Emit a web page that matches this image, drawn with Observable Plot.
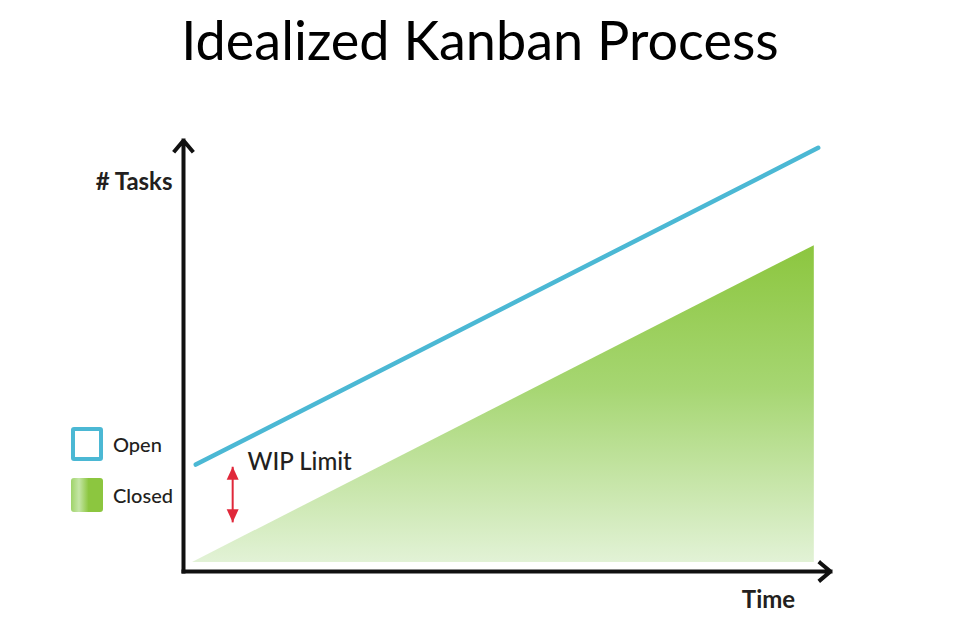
<!DOCTYPE html>
<html>
<head>
<meta charset="utf-8">
<script src="https://cdn.jsdelivr.net/npm/d3@7"></script>
<script src="https://cdn.jsdelivr.net/npm/@observablehq/plot@0.6"></script>
<style>
  html, body { margin: 0; padding: 0; background: #fff; }
  #wrap { position: relative; width: 960px; height: 630px; overflow: hidden; font-family: Lato, "Open Sans", sans-serif; }
  #title { height: 90px; box-sizing: border-box; padding-top: 13px; text-align: center; font-size: 54px; line-height: 54px; color: #000; }
  #legend { position: absolute; left: 71px; top: 427px; color: #231f20; font-size: 20px; }
  .item { position: absolute; left: 0; height: 34px; width: 120px; }
  .sw { position: absolute; left: 0; top: 0; width: 32px; height: 34px; box-sizing: border-box; border-radius: 3px; }
  .lab { position: absolute; left: 42px; top: 0; line-height: 34px; font-weight: 500; }
</style>
</head>
<body>
<div id="wrap">
  <div id="title">Idealized Kanban Process</div>
  <div id="chart"></div>
  <div id="legend"></div>
</div>
<script>
// ---- data ----
const titleText = "Idealized Kanban Process";
const yLabel = "# Tasks";
const xLabel = "Time";
const wipLabel = "WIP Limit";

const openTime = [1.9, 98.1];
const openTasks = [24.8, 98.3];

const closedTime = [1.4, 97.5];
const closedTasks = [2.1, 75.6];
const closedBase = 2.1;

const wipTime = 7.6;
const wipLow = 11.4;
const wipHigh = 24.3;
const wipTextTime = 9.9;
const wipTextTasks = 25.4;

const axisMax = 100;

const legendLabels = ["Open", "Closed"];
const openColor = "#4bb8d4";
const closedTop = "#8cc63f";
const closedBottom = "#e2f2d6";
const wipColor = "#e0283a";
const axisColor = "#111111";
const textColor = "#231f20";

// ---- tables ----
const openData = openTime.map((t, i) => ({t, v: openTasks[i]}));
const closedData = closedTime.map((t, i) => ({t, v: closedTasks[i], b: closedBase}));

const triUp = { draw(ctx) { ctx.moveTo(0, -6.5); ctx.lineTo(6, 6.5); ctx.lineTo(-6, 6.5); ctx.closePath(); } };
const triDown = { draw(ctx) { ctx.moveTo(0, 6.5); ctx.lineTo(6, -6.5); ctx.lineTo(-6, -6.5); ctx.closePath(); } };

const plot = Plot.plot({
  width: 960,
  height: 540,
  marginLeft: 183,
  marginRight: 130,
  marginTop: 50,
  marginBottom: 59,
  x: { domain: [0, axisMax], axis: null },
  y: { domain: [0, axisMax], axis: null },
  style: { fontFamily: "Lato, 'Open Sans', sans-serif", background: "white" },
  marks: [
    Plot.areaY(closedData, { x: "t", y1: "b", y2: "v", fill: "url(#closedGrad)" }),
    Plot.line(openData, { x: "t", y: "v", stroke: openColor, strokeWidth: 4.5, strokeLinecap: "round" }),
    // axes as arrows
    Plot.arrow([{x1: 0, y1: 0, x2: 0, y2: axisMax}], {
      x1: "x1", y1: "y1", x2: "x2", y2: "y2", stroke: axisColor, strokeWidth: 4,
      headLength: 5, headAngle: 80, strokeLinecap: "square", strokeLinejoin: "miter"
    }),
    Plot.arrow([{x1: 0, y1: 0, x2: axisMax, y2: 0}], {
      x1: "x1", y1: "y1", x2: "x2", y2: "y2", stroke: axisColor, strokeWidth: 4,
      headLength: 5, headAngle: 80, strokeLinecap: "square", strokeLinejoin: "miter"
    }),
    // WIP limit double arrow
    Plot.link([{t: wipTime, a: wipLow, b: wipHigh}], { x1: "t", x2: "t", y1: "a", y2: "b", stroke: wipColor, strokeWidth: 2 }),
    Plot.dot([{t: wipTime, v: wipHigh}], { x: "t", y: "v", symbol: triUp, fill: wipColor, stroke: "none", dy: 6.5 }),
    Plot.dot([{t: wipTime, v: wipLow}], { x: "t", y: "v", symbol: triDown, fill: wipColor, stroke: "none", dy: -6.5 }),
    Plot.text([wipLabel], { x: wipTextTime, y: wipTextTasks, text: d => d, textAnchor: "start", fontSize: 24, fontWeight: 500, fill: textColor }),
    // axis labels
    Plot.text([yLabel], { frameAnchor: "top-left", text: d => d, dx: -11, dy: 42, textAnchor: "end", lineAnchor: "middle", fontSize: 24, fontWeight: 700, fill: textColor }),
    Plot.text([xLabel], { frameAnchor: "bottom-right", text: d => d, dx: -62, dy: 29, textAnchor: "middle", lineAnchor: "middle", fontSize: 24, fontWeight: 700, fill: textColor })
  ]
});

// gradient defs
const svgNS = "http://www.w3.org/2000/svg";
const svg = plot.tagName.toLowerCase() === "svg" ? plot : plot.querySelector("svg");
const defs = document.createElementNS(svgNS, "defs");
const grad = document.createElementNS(svgNS, "linearGradient");
grad.setAttribute("id", "closedGrad");
grad.setAttribute("x1", "0"); grad.setAttribute("y1", "0");
grad.setAttribute("x2", "0"); grad.setAttribute("y2", "1");
[[0, closedTop], [0.45, "#a6d672"], [1, closedBottom]].forEach(([o, c]) => {
  const s = document.createElementNS(svgNS, "stop");
  s.setAttribute("offset", o); s.setAttribute("stop-color", c);
  grad.appendChild(s);
});
defs.appendChild(grad);
svg.insertBefore(defs, svg.firstChild);

document.getElementById("chart").appendChild(plot);
document.getElementById("title").textContent = titleText;

// legend
const legend = document.getElementById("legend");
legendLabels.forEach((lab, i) => {
  const item = document.createElement("div");
  item.className = "item";
  item.style.top = (i * 51) + "px";
  const sw = document.createElement("div");
  sw.className = "sw";
  if (i === 0) {
    sw.style.border = "4px solid " + openColor;
  } else {
    sw.style.background = "linear-gradient(to right, #9fd36a 0%, #c5e6a6 25%, #8cc63f 55%, #8cc63f 100%)";
  }
  const tx = document.createElement("div");
  tx.className = "lab";
  tx.textContent = lab;
  item.appendChild(sw);
  item.appendChild(tx);
  legend.appendChild(item);
});
</script>
</body>
</html>
